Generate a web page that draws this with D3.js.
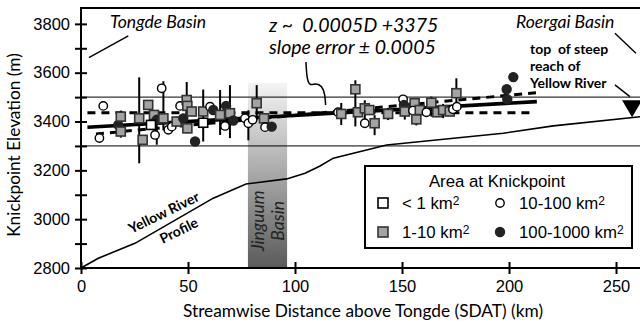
<!DOCTYPE html>
<html><head><meta charset="utf-8">
<script src="https://cdn.jsdelivr.net/npm/d3@7"></script>
<style>body{margin:0;background:#fff} svg{display:block}</style>
</head><body><svg id="c" width="640" height="324"></svg>
<script>
// ---- data ----
const distKm = [10.4, 8.6, 17.4, 18.6, 18.6, 27.2, 28.8, 31.4, 34.1, 34.6, 35.4, 37.7, 38.5, 40.8, 42.4, 44.7, 47.8, 46.3, 49.4, 49.7,
  49.7, 51.7, 53.3, 57.1, 57.1, 60.3, 61.8, 67.8, 65.0, 67.3, 69.6, 71.2, 76.6, 78.2, 82.1, 80.2, 85.5, 86.0, 89.1, 120.1,
  121.6, 128.2, 129.4, 132.6, 134.7, 132.6, 137.2, 143.5, 150.5, 150.9, 151.3, 155.9, 155.1, 156.7, 158.3, 161.4, 163.7, 166.5, 169.2, 172.3,
  173.8, 175.6, 175.4, 202.0, 198.9, 199.2, 32.7];
const elevM = [3464, 3332, 3386, 3420, 3359, 3413, 3325, 3468, 3427, 3345, 3407, 3536, 3413, 3366, 3379, 3400, 3413, 3464, 3488, 3464,
  3372, 3441, 3318, 3395, 3441, 3461, 3447, 3464, 3427, 3382, 3434, 3404, 3413, 3393, 3475, 3407, 3413, 3377, 3379, 3438,
  3431, 3532, 3438, 3454, 3447, 3393, 3393, 3431, 3491, 3468, 3441, 3475, 3445, 3409, 3447, 3438, 3477, 3438, 3447, 3441,
  3450, 3461, 3516, 3582, 3532, 3491, 3386];
// 0: <1 km2, 1: 1-10 km2, 2: 10-100 km2, 3: 100-1000 km2
const areaClass = [2,2,3,1,1,1,1,1,1,2, 3,2,1,2,2,1,3,2,1,1, 1,1,3,0,1,2,3,3,1,2, 1,3,2,2,1,2,1,2,3,2,
  1,1,1,1,1,2,1,1,2,3, 1,1,2,1,1,2,1,1,1,1, 2,2,1,3,3,3,0];
const errUp = [0,0,0,25,25,168,0,20,20,0, 33,0,152,0,0,20,0,0,74,0, 20,0,0,0,90,0,0,0,102,0,
  115,0,0,53,74,0,0,0,0,0, 45,37,0,33,0,0,33,25,0,0, 33,0,0,25,0,0,25,0,25,0, 0,0,61,0,0,0,0];
const errDown = [0,0,0,25,25,184,0,20,20,0, 102,0,49,0,0,20,0,0,123,0, 20,0,0,0,123,0,0,0,82,0,
  102,0,0,70,57,0,0,0,0,0, 45,152,0,57,0,0,49,25,0,0, 33,0,0,25,0,0,57,0,33,0, 0,0,49,0,0,0,0];

const profileKm = [0, 8.1, 25.2, 61.8, 77.1, 96.1, 104.7, 111.7, 117.9, 142.8, 197.3, 220.7, 262];
const profileElev = [2800, 2840, 2901, 3086, 3144, 3165, 3188, 3218, 3250, 3304, 3352, 3382, 3420];
const steepTop = {km: 257.5, elev: 3418};

const fitSlope = 0.0005, fitIntercept = 3375, fitRangeKm = [3, 213];
const boundFlat = [[3, 3436], [211, 3436]];
const boundSteep = [[7, 3349], [212.6, 3518]];
const basinBand = {fromKm: 78, toKm: 96.3, topElev: 3558};
const refLines = [3500, 3300];

const xTicks = [0, 50, 100, 150, 200, 250];
const yTicks = [2800, 2900, 3000, 3100, 3200, 3300, 3400, 3500, 3600, 3700, 3800];
const yLabels = [2800, 3000, 3200, 3400, 3600, 3800];
const legendLabels = ["< 1 km", "1-10 km", "10-100 km", "100-1000 km"];

const leaderEq = [[105.1,3644],[105.6,3570],[107.0,3546],[109.8,3558],[112.6,3546],[114.0,3513],[114.3,3468]];
const leaderTongde = [[3.7,3662],[22.1,3751]];
const leaderRoergai = [[249.5,3762],[259.3,3680]];
const leaderSteep = [[249.5,3550],[256.5,3502]];

// ---- chart ----
const svg = d3.select("#c");
const x = d3.scaleLinear().domain([0, 262]).range([81, 641.7]);
const y = d3.scaleLinear().domain([2800, 3865]).range([268, 8]);
const TF = "'Liberation Sans', Arial, sans-serif";
const MF = "Lato, 'Open Sans', sans-serif";

const defs = svg.append("defs");
const grad = defs.append("linearGradient").attr("id","band").attr("x1",0).attr("x2",0).attr("y1",0).attr("y2",1);
grad.append("stop").attr("offset","0").attr("stop-color","#f4f4f4");
grad.append("stop").attr("offset","1").attr("stop-color","#5a5a5a");

svg.append("rect")
  .attr("x", x(basinBand.fromKm)).attr("width", x(basinBand.toKm) - x(basinBand.fromKm))
  .attr("y", y(basinBand.topElev)).attr("height", y(2800) - y(basinBand.topElev))
  .attr("fill", "url(#band)");

svg.selectAll("line.ref").data(refLines).join("line").attr("class","ref")
  .attr("x1", x(0)).attr("x2", x(262)).attr("y1", d => y(d)).attr("y2", d => y(d))
  .attr("stroke", "#000").attr("stroke-width", 1);

const line = d3.line().x(d => x(d[0])).y(d => y(d[1]));
svg.append("path").datum(profileKm.map((k,i) => [k, profileElev[i]]))
  .attr("d", line).attr("fill","none").attr("stroke","#000").attr("stroke-width",1.6);

// Jinguum text
const jx = (x(basinBand.fromKm) + x(basinBand.toKm)) / 2, jy = y(2993);
svg.append("text").attr("transform", `translate(${jx-1},${jy}) rotate(-90)`)
  .attr("text-anchor","middle").attr("font-family",MF).attr("font-style","italic").attr("font-size",17.5)
  .attr("fill","#222").attr("dy", "-0.15em").text("Jinguum");
svg.append("text").attr("transform", `translate(${jx+16},${jy}) rotate(-90)`)
  .attr("text-anchor","middle").attr("font-family",MF).attr("font-style","italic").attr("font-size",17.5)
  .attr("fill","#222").text("Basin");

// triangle
svg.append("path")
  .attr("d", `M${x(steepTop.km)-10},${y(steepTop.elev)-17} L${x(steepTop.km)+10},${y(steepTop.elev)-17} L${x(steepTop.km)},${y(steepTop.elev)} Z`)
  .attr("fill","#000");

// bounds and fit
[boundFlat, boundSteep].forEach(b => {
  svg.append("path").datum(b).attr("d", line).attr("fill","none").attr("stroke","#000")
    .attr("stroke-width",3).attr("stroke-dasharray","8,6");
});
svg.append("path").datum(fitRangeKm.map(k => [k, fitIntercept + fitSlope * k * 1000]))
  .attr("d", line).attr("fill","none").attr("stroke","#000").attr("stroke-width",3.6);

// error bars
const pts = distKm.map((d,i) => ({d, z: elevM[i], c: areaClass[i], up: errUp[i], dn: errDown[i]}));
svg.selectAll("line.err").data(pts.filter(p => p.up > 0 || p.dn > 0)).join("line").attr("class","err")
  .attr("x1", p => x(p.d)).attr("x2", p => x(p.d))
  .attr("y1", p => y(p.z + p.up)).attr("y2", p => y(p.z - p.dn))
  .attr("stroke","#000").attr("stroke-width",2);

const fills = ["#fff", "#a3a3a3", "#fff", "#222"];
function drawMarker(sel, c, cx, cy, s) {
  if (c < 2) {
    sel.append("rect").attr("x", cx - s/2).attr("y", cy - s/2).attr("width", s).attr("height", s)
      .attr("fill", fills[c]).attr("stroke", c === 0 ? "#000" : "#333").attr("stroke-width", 1.6);
  } else {
    sel.append("circle").attr("cx", cx).attr("cy", cy).attr("r", c === 3 ? s/2 : s/2 - 0.3)
      .attr("fill", fills[c]).attr("stroke", c === 3 ? "#222" : "#000").attr("stroke-width", 1.4);
  }
}
const mg = svg.append("g");
pts.forEach(p => drawMarker(mg, p.c, x(p.d), y(p.z), 9));

// axes
const gy = svg.append("g").attr("transform", `translate(${x(0)},0)`)
  .call(d3.axisLeft(y).tickValues(yTicks).tickSize(6).tickFormat(d => yLabels.includes(d) ? d : ""));
gy.select(".domain").remove();
gy.selectAll(".tick line").attr("x1", 6).attr("x2", -6).attr("stroke-width", 2);
gy.selectAll(".tick text").attr("x", -11).attr("font-family", TF).attr("font-size", 16.5).attr("fill","#000");

const gx = svg.append("g").attr("transform", `translate(0,${y(2800)})`)
  .call(d3.axisBottom(x).tickValues(xTicks).tickSize(6).tickFormat(d3.format("d")));
gx.select(".domain").remove();
gx.selectAll(".tick line").attr("y1", -6).attr("y2", 6).attr("stroke-width", 2);
gx.selectAll(".tick text").attr("y", 12).attr("font-family", TF).attr("font-size", 16.5).attr("fill","#000");

// frame
svg.append("path").attr("d", `M${x(262)+2},${y(3865)} H${x(0)} V${y(2800)} H${x(262)+2}`)
  .attr("fill","none").attr("stroke","#000").attr("stroke-width",2);

// axis titles
svg.append("text").attr("x", 363).attr("y", 317).attr("text-anchor","middle")
  .attr("font-family", MF).attr("font-size", 17.3).text("Streamwise Distance above Tongde (SDAT) (km)");
svg.append("text").attr("transform", "translate(20,145) rotate(-90)").attr("text-anchor","middle")
  .attr("font-family", MF).attr("font-size", 17.3).text("Knickpoint Elevation (m)");

// annotations
function ann(txt, px, py, opts = {}) {
  const t = svg.append("text").attr("x", px).attr("y", py).attr("font-family", MF)
    .attr("font-size", opts.size || 16).attr("font-style", opts.italic ? "italic" : "normal")
    .attr("font-weight", opts.bold ? "bold" : "normal").style("white-space","pre").text(txt);
  if (opts.anchor) t.attr("text-anchor", opts.anchor);
  return t;
}
ann("Tongde Basin", 110, 28, {italic: true, size: 17.6});
ann("Roergai Basin", 516, 28, {italic: true, size: 17.6});
ann("z ~  0.0005D +3375", 269, 32, {italic: true, size: 19.5});
ann("slope error ± 0.0005", 269, 54, {italic: true, size: 19.5});
ann("top  of steep", 530, 54, {bold: true, size: 14});
ann("reach of", 530, 71, {bold: true, size: 14});
ann("Yellow River", 530, 88, {bold: true, size: 14});

svg.append("text").attr("transform","translate(166,217) rotate(-26)").attr("text-anchor","middle")
  .attr("font-family", MF).attr("font-weight","bold").attr("font-size",14).text("Yellow River");
svg.append("text").attr("transform","translate(181,235) rotate(-26)").attr("text-anchor","middle")
  .attr("font-family", MF).attr("font-weight","bold").attr("font-size",14).text("Profile");

[leaderTongde, leaderRoergai, leaderSteep].forEach(l => {
  svg.append("path").datum(l).attr("d", line).attr("stroke","#000").attr("stroke-width",1.4).attr("fill","none");
});
svg.append("path").datum(leaderEq).attr("d", d3.line().x(d => x(d[0])).y(d => y(d[1])).curve(d3.curveBasis))
  .attr("stroke","#000").attr("stroke-width",1.5).attr("fill","none");

// legend
const lg = svg.append("g");
lg.append("rect").attr("x",365).attr("y",166).attr("width",267).attr("height",82)
  .attr("fill","#fff").attr("stroke","#000").attr("stroke-width",2);
lg.append("text").attr("x",497).attr("y",187).attr("text-anchor","middle")
  .attr("font-family",TF).attr("font-size",16.8).text("Area at Knickpoint");
const lpos = [[383,203],[383,232],[500,203],[500,232]];
legendLabels.forEach((lab,i) => {
  const [lx, ly] = lpos[i];
  drawMarker(lg, i, lx, ly, i < 2 ? 10 : 9);
  const t = lg.append("text").attr("x", lx + 19).attr("y", ly + 6).attr("font-family",TF).attr("font-size",16.8).text(lab);
  t.append("tspan").attr("dy", -4).attr("font-size", 12).text("2");
});
</script></body></html>
